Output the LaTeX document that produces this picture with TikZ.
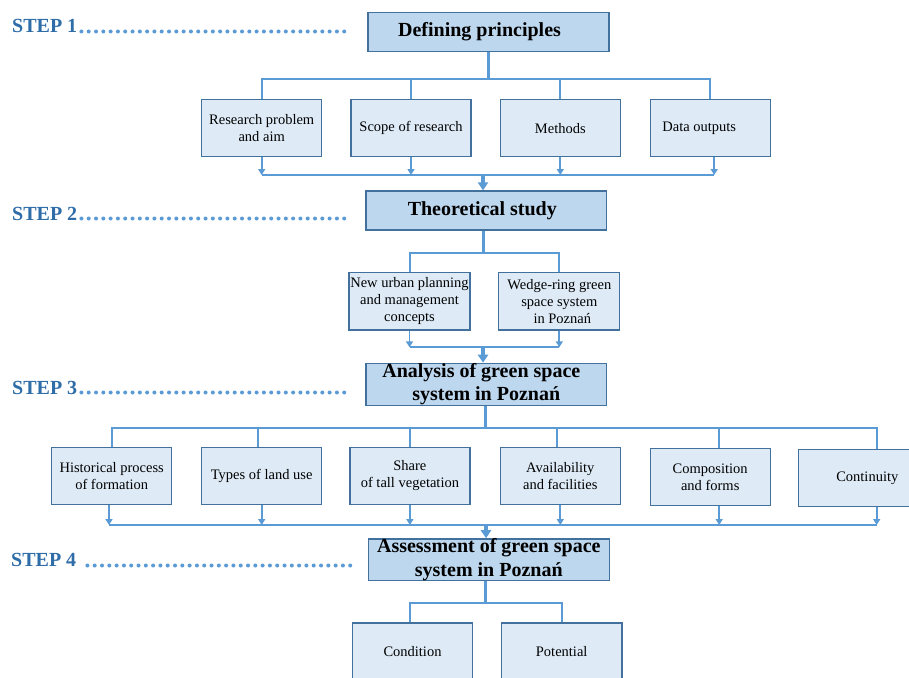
\documentclass[tikz,border=0pt]{standalone}
\usepackage{fontspec}
\setmainfont{Liberation Serif}
\usetikzlibrary{arrows.meta}
\definecolor{lineblue}{HTML}{5B9BD5}
\definecolor{edgeblue}{HTML}{41719C}
\definecolor{headfill}{HTML}{BDD7EE}
\definecolor{boxfill}{HTML}{DEEBF7}
\definecolor{steptext}{HTML}{2E6DA8}
\tikzset{
 headbox/.style={draw=edgeblue, fill=headfill, line width=1.3pt, inner sep=0pt, align=center,
   font=\fontsize{20}{23.5}\selectfont\bfseries, minimum width=241pt, minimum height=40pt},
 smallbox/.style={draw=edgeblue, fill=boxfill, line width=1.3pt, inner sep=0pt, align=center,
   font=\fontsize{14.5}{17}\selectfont, minimum width=120pt, minimum height=57pt},
 steplabel/.style={anchor=base west, inner sep=0pt, text=steptext, font=\fontsize{20}{24}\selectfont\bfseries},
 dots/.style={draw=lineblue, line width=4pt, line cap=round, dash pattern=on 0pt off 7.3pt},
 branch/.style={draw=lineblue, line width=2pt},
 trunk/.style={draw=lineblue, line width=3pt},
 smallarrow/.style={draw=lineblue, line width=1.8pt, -{Triangle[width=7pt,length=6pt]}},
 bigarrow/.style={draw=lineblue, line width=3.2pt, -{Triangle[width=10pt,length=8pt]}},
}
\begin{document}
\begin{tikzpicture}[x=1pt,y=-1pt]
\useasboundingbox (0,0) rectangle (909,677);
\clip (0,0) rectangle (909,677);
\fill[white] (0,0) rectangle (909,677);

% STEP labels
\node[steplabel] (s1) at (12,33) {STEP 1};
\node[steplabel] (s2) at (12,220) {STEP 2};
\node[steplabel] (s3) at (12,394) {STEP 3};
\node[steplabel] (s4) at (11,566.7) {STEP 4};
\coordinate (d1) at (350,31.5);
\coordinate (d2) at (350,218.5);
\coordinate (d3) at (350,392.5);
\coordinate (d4) at (355,565.5);
\draw[dots] ([xshift=4pt,yshift=1.5pt]s1.base east) -- (d1);
\draw[dots] ([xshift=4pt,yshift=1.5pt]s2.base east) -- (d2);
\draw[dots] ([xshift=4pt,yshift=1.5pt]s3.base east) -- (d3);
\draw[dots] ([xshift=11pt,yshift=1.2pt]s4.base east) -- (d4);

% Step 1
\node[headbox, minimum height=39.4pt] (dp) at (488.5,32) {\hspace*{-18pt}Defining principles};
\node[smallbox] (rp) at (261.7,128.3) {Research problem\\and aim};
\node[smallbox] (sr) at (411,128.3) {Scope of research};
\node[smallbox] (me) at (560.3,128.3) {Methods};
\node[smallbox] (do) at (710.2,128.3) {\hspace*{-22pt}Data outputs};
\coordinate (j1) at (489,79);
\coordinate (b1) at (483,175);
\coordinate (dob) at ([xshift=4pt]do.south);
\draw[trunk] (dp.south) -- (dp.south |- j1);
\draw[branch] (rp.north) |- (j1) -| (do.north);
\draw[branch] (sr.north) -- (sr.north |- j1);
\draw[branch] (me.north) -- (me.north |- j1);
\draw[smallarrow] (rp.south) -- (rp.south |- b1);
\draw[smallarrow] (sr.south) -- (sr.south |- b1);
\draw[smallarrow] (me.south) -- (me.south |- b1);
\draw[smallarrow] (dob) -- (dob |- b1);
\draw[branch] (rp.south |- b1) -- (dob |- b1);

% Step 2
\node[headbox, minimum width=240.7pt, minimum height=39pt] (ts) at (486.3,210.5) {\hspace*{-8pt}Theoretical study};
\draw[bigarrow] (b1) -- (b1 |- ts.north);
\node[smallbox, minimum width=121pt, minimum height=57.3pt] (nu) at (409.5,301.4) {New urban planning\\and management\\concepts};
\node[smallbox, minimum width=121pt, minimum height=57.3pt] (wr) at (559.3,301.4) {Wedge-ring green\\space system\\\hspace*{6pt}in Poznań};
\coordinate (j2) at (483,252.7);
\coordinate (b2) at (483,347.3);
\draw[trunk] (ts.south -| j2) -- (j2);
\draw[branch] (nu.north) |- (j2) -| (wr.north);
\draw[smallarrow] (nu.south) -- (nu.south |- b2);
\draw[smallarrow] (wr.south) -- (wr.south |- b2);
\draw[branch] (nu.south |- b2) -- (wr.south |- b2);

% Step 3
\node[headbox, minimum width=240.7pt] (an) at (486.3,384.3) {\hspace*{-10pt}Analysis of green space\\system in Poznań};
\draw[bigarrow] (b2) -- (b2 |- an.north);
\node[smallbox] (hp) at (111.7,476) {Historical process\\of formation};
\node[smallbox] (tl) at (261.7,476) {Types of land use};
\node[smallbox] (st) at (409.9,476) {Share\\of tall vegetation};
\node[smallbox] (av) at (560.3,476) {Availability\\and facilities};
\node[smallbox] (cf) at (710.2,476.9) {Composition\\and forms};
\node[smallbox] (co) at (858.3,477.9) {\hspace*{18pt}Continuity};
\coordinate (j3) at (485,427.7);
\coordinate (b3) at (486,525);
\coordinate (cft) at ([xshift=8.5pt]cf.north);
\coordinate (cot) at ([xshift=18.4pt]co.north);
\coordinate (cfb) at ([xshift=9pt]cf.south);
\coordinate (cob) at ([xshift=18.4pt]co.south);
\coordinate (hpb) at ([xshift=-2.7pt]hp.south);
\draw[trunk] (an.south -| j3) -- (j3);
\draw[branch] (hp.north) |- (j3) -| (cot);
\draw[branch] ([xshift=-4pt]tl.north) -- ([xshift=-4pt]tl.north |- j3);
\draw[branch] (st.north) -- (st.north |- j3);
\draw[branch] ([xshift=-3pt]av.north) -- ([xshift=-3pt]av.north |- j3);
\draw[branch] (cft) -- (cft |- j3);
\draw[smallarrow] (hpb) -- (hpb |- b3);
\draw[smallarrow] (tl.south) -- (tl.south |- b3);
\draw[smallarrow] (st.south) -- (st.south |- b3);
\draw[smallarrow] (av.south) -- (av.south |- b3);
\draw[smallarrow] (cfb) -- (cfb |- b3);
\draw[smallarrow] (cob) -- (cob |- b3);
\draw[branch] (hpb |- b3) -- (cob |- b3);

% Step 4
\node[headbox, minimum height=41pt] (as) at (488.8,559.8) {Assessment of green space\\system in Poznań};
\draw[bigarrow] (b3) -- (b3 |- as.north);
\node[smallbox, minimum width=120.4pt, minimum height=58.3pt] (cn) at (412.5,652) {Condition};
\node[smallbox, minimum width=120.7pt, minimum height=58.3pt] (pt) at (561.7,652) {Potential};
\coordinate (j4) at (485,602.7);
\draw[trunk] (as.south -| j4) -- (j4);
\draw[branch] ([xshift=-3pt]cn.north) |- (j4) -| (pt.north);
\end{tikzpicture}
\end{document}
